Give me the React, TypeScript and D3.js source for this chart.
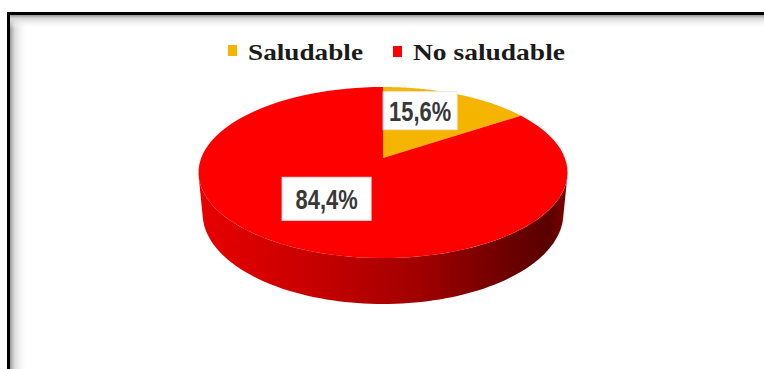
import React from 'react';
import * as d3 from 'd3';

// ---- data ----
const categories: string[] = ['Saludable', 'No saludable'];
const values: number[] = [15.6, 84.4];
const valueLabels: string[] = ['15,6%', '84,4%'];
const sliceColors: string[] = ['#f4b400', '#ff0000'];

// ---- layout ----
const W = 764;
const H = 369;
const CX = 383;
const CY = 158;
const F = 953.7;
const DIST = 5.245;
const SIN = 0.4567;
const COS = Math.sqrt(1 - SIN * SIN);
const DEPTH = 0.256;

function project(x: number, y: number, z: number): [number, number] {
  const depth = DIST + y * COS - z * SIN;
  const up = y * SIN + z * COS;
  return [CX + (F * x) / depth, CY - (F * up) / depth];
}
function rim(theta: number, z: number, r = 1): [number, number] {
  return project(r * Math.sin(theta), r * Math.cos(theta), z);
}

const line = d3.line<[number, number]>().x((d) => d[0]).y((d) => d[1]);

function sampleAngles(a0: number, a1: number, n = 90): number[] {
  const s = d3.scaleLinear().domain([0, n]).range([a0, a1]);
  return d3.range(n + 1).map((i) => s(i));
}

const labelBoxes = [
  { w: 74, h: 38, dx: -10, dy: -7 },
  { w: 89, h: 43, dx: 0, dy: -7.5 },
];

export default function App() {
  const pie = d3.pie<number>().sort(null).value((d) => d);
  const arcs = pie(values);

  const tVis = Math.acos(-1 / (DIST * COS));
  const vis0 = tVis;
  const vis1 = 2 * Math.PI - tVis;

  const halfW = F / Math.sqrt(DIST * DIST - COS * COS);

  const sides = arcs
    .map((a, i) => {
      const s0 = Math.max(a.startAngle, vis0);
      const s1 = Math.min(a.endAngle, vis1);
      if (s1 <= s0) return null;
      const angs = sampleAngles(s0, s1);
      const top = angs.map((t) => rim(t, 0));
      const bot = angs.slice().reverse().map((t) => rim(t, -DEPTH));
      return { i, d: line([...top, ...bot])! + 'Z' };
    })
    .filter(Boolean) as { i: number; d: string }[];

  const tops = arcs.map((a, i) => {
    const angs = sampleAngles(a.startAngle, a.endAngle);
    const pts: [number, number][] = [project(0, 0, 0), ...angs.map((t) => rim(t, 0))];
    return { i, d: line(pts)! + 'Z' };
  });

  const labels = arcs.map((a, i) => {
    const mid = (a.startAngle + a.endAngle) / 2;
    const [x, y] = rim(mid, 0, 0.6);
    const b = labelBoxes[i];
    return { i, cx: x + b.dx, cy: y + b.dy, w: b.w, h: b.h };
  });

  const legendItems = [
    { sq: [228, 45], tx: 248, len: 115 },
    { sq: [393, 46], tx: 413, len: 152 },
  ];

  return (
    <svg
      width={W}
      height={H}
      style={{ position: 'absolute', left: 0, top: 0 }}
      xmlns="http://www.w3.org/2000/svg"
    >
      <defs>
        <linearGradient id="sideRed" gradientUnits="userSpaceOnUse" x1={CX - halfW} x2={CX + halfW} y1={0} y2={0}>
          <stop offset="0" stopColor="#e80000" />
          <stop offset="0.3" stopColor="#c80000" />
          <stop offset="0.6" stopColor="#a00000" />
          <stop offset="0.85" stopColor="#6a0000" />
          <stop offset="0.95" stopColor="#5a0000" />
          <stop offset="1" stopColor="#800000" />
        </linearGradient>
        <linearGradient id="sideYel" gradientUnits="userSpaceOnUse" x1={CX - halfW} x2={CX + halfW} y1={0} y2={0}>
          <stop offset="0" stopColor="#e0a000" />
          <stop offset="1" stopColor="#805a00" />
        </linearGradient>
        <linearGradient id="shL" x1="0" x2="1" y1="0" y2="0">
          <stop offset="0" stopColor="#9a9a9a" />
          <stop offset="0.25" stopColor="#dadada" />
          <stop offset="1" stopColor="#ffffff" stopOpacity="0" />
        </linearGradient>
        <linearGradient id="shT" x1="0" x2="0" y1="0" y2="1">
          <stop offset="0" stopColor="#9a9a9a" />
          <stop offset="0.25" stopColor="#dadada" />
          <stop offset="1" stopColor="#ffffff" stopOpacity="0" />
        </linearGradient>
        <radialGradient id="topShade" gradientUnits="userSpaceOnUse" cx={CX} cy={CY - 10} r={260} gradientTransform={`translate(0 ${CY}) scale(1 0.5) translate(0 ${-CY})`}>
          <stop offset="0.75" stopColor="#000" stopOpacity="0" />
          <stop offset="1" stopColor="#000" stopOpacity="0.1" />
        </radialGradient>
      </defs>

      {/* background */}
      <rect x={0} y={0} width={W} height={H} fill="#ffffff" />
      <rect x={10} y={15} width={18} height={H - 15} fill="url(#shL)" />
      <rect x={10} y={15} width={W - 10} height={14} fill="url(#shT)" />
      <rect x={7} y={12} width={W - 7} height={3} fill="#000" />
      <rect x={7} y={12} width={3} height={H - 12} fill="#000" />

      {/* legend */}
      {categories.map((c, i) => (
        <g key={c}>
          <rect x={legendItems[i].sq[0]} y={legendItems[i].sq[1]} width={9} height={11} fill={sliceColors[i]} />
          <text
            x={legendItems[i].tx}
            y={60}
            fontFamily="'Liberation Serif', 'DejaVu Serif', serif"
            fontWeight="bold"
            fontSize={23}
            fill="#1a1a1a"
            textLength={legendItems[i].len}
            lengthAdjust="spacingAndGlyphs"
          >
            {c}
          </text>
        </g>
      ))}

      {/* pie side */}
      {sides.map((s) => (
        <path key={'s' + s.i} d={s.d} fill={s.i === 1 ? 'url(#sideRed)' : 'url(#sideYel)'} />
      ))}
      {/* pie top */}
      {tops.map((t) => (
        <path key={'t' + t.i} d={t.d} fill={sliceColors[t.i]} />
      ))}
      <path d={line(sampleAngles(0, 2 * Math.PI, 180).map((t) => rim(t, 0)))! + 'Z'} fill="url(#topShade)" />

      {/* labels */}
      {labels.map((l) => (
        <g key={'l' + l.i}>
          <rect x={l.cx - l.w / 2} y={l.cy - l.h / 2} width={l.w} height={l.h} fill="#ffffff" stroke="#e6e6e6" strokeWidth={1} />
          <text
            x={l.cx}
            y={l.cy + 10}
            textAnchor="middle"
            fontFamily="'Liberation Sans', Arial, sans-serif"
            fontWeight="bold"
            fontSize={27}
            fill="#383838"
            textLength={62}
            lengthAdjust="spacingAndGlyphs"
          >
            {valueLabels[l.i]}
          </text>
        </g>
      ))}
    </svg>
  );
}
